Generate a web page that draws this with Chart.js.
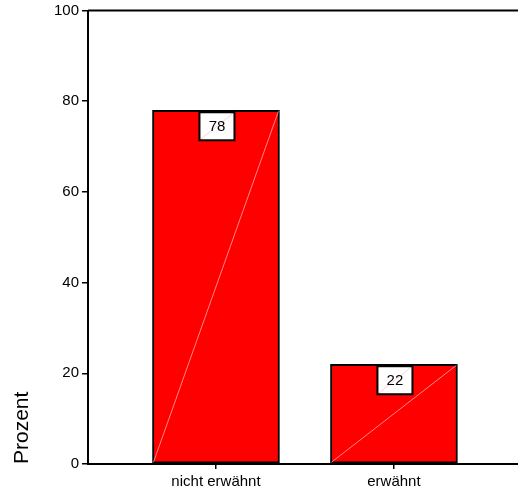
<!DOCTYPE html>
<html>
<head>
<meta charset="utf-8">
<script src="https://cdn.jsdelivr.net/npm/chart.js@4/dist/chart.umd.min.js"></script>
<style>
html,body{margin:0;padding:0;background:#fff;overflow:hidden;}
#wrap{width:518px;height:492px;position:relative;}
</style>
</head>
<body>
<div id="wrap"><canvas id="c" width="518" height="492"></canvas></div>
<script>
const categories = ['nicht erwähnt', 'erwähnt'];
const percentValues = [78, 22];
const yTickValues = [0, 20, 40, 60, 80, 100];
const yAxisTitle = 'Prozent';

const FONT = '"Liberation Sans", Arial, sans-serif';

const overlayPlugin = {
  id: 'overlay',
  afterDatasetsDraw(chart) {
    const ctx = chart.ctx;
    const meta = chart.getDatasetMeta(0);
    const area = chart.chartArea;
    ctx.save();
    // top frame line
    ctx.strokeStyle = '#000';
    ctx.lineWidth = 2;
    ctx.beginPath();
    ctx.moveTo(area.left, area.top);
    ctx.lineTo(area.right, area.top);
    ctx.stroke();
    meta.data.forEach((bar, i) => {
      const w = bar.width;
      const l = bar.x - w / 2, r = bar.x + w / 2;
      // faint diagonal
      ctx.strokeStyle = 'rgba(255,190,190,0.9)';
      ctx.lineWidth = 0.8;
      ctx.beginPath();
      ctx.moveTo(l + 1, bar.base - 1);
      ctx.lineTo(r - 1, bar.y + 1);
      ctx.stroke();
      // value box
      const bw = 35, bh = 28;
      const bx = bar.x - bw / 2 + 1, by = bar.y + 2;
      ctx.fillStyle = '#fff';
      ctx.fillRect(bx, by, bw, bh);
      ctx.strokeStyle = 'rgba(255,190,190,0.9)';
      ctx.lineWidth = 0.8;
      ctx.beginPath();
      ctx.moveTo(bx, by + bh);
      ctx.lineTo(bx + bw, by);
      ctx.stroke();
      ctx.strokeStyle = '#000';
      ctx.lineWidth = 2;
      ctx.strokeRect(bx, by, bw, bh);
      ctx.fillStyle = '#000';
      ctx.font = '15px ' + FONT;
      ctx.textAlign = 'center';
      ctx.textBaseline = 'middle';
      ctx.fillText(String(percentValues[i]), bx + bw / 2, by + bh / 2 + 1);
    });
    ctx.restore();
  }
};

new Chart(document.getElementById('c'), {
  type: 'bar',
  data: {
    datasets: [{
      data: percentValues.map((v, i) => ({ x: i + 1, y: v })),
      backgroundColor: '#ff0000',
      borderColor: '#000',
      borderWidth: 2,
      borderSkipped: false,
      barThickness: 127
    }]
  },
  options: {
    responsive: false,
    animation: false,
    events: [],
    layout: { padding: { top: 10, right: 0, left: 0, bottom: 0 } },
    plugins: { legend: { display: false }, tooltip: { enabled: false } },
    scales: {
      x: {
        type: 'linear',
        offset: false,
        min: 0.281,
        max: 2.697,
        afterBuildTicks(scale) { scale.ticks = categories.map((c, i) => ({ value: i + 1 })); },
        afterFit(scale) { scale.height = 28; },
        ticks: {
          callback: (v) => categories[v - 1],
          font: { family: FONT, size: 15 },
          color: '#000',
          padding: 4,
          autoSkip: false,
          maxRotation: 0
        },
        grid: { offset: false, drawOnChartArea: false, drawTicks: true, tickLength: 5, color: '#000', lineWidth: 1.5 },
        border: { display: true, color: '#000', width: 2 }
      },
      y: {
        min: 0,
        max: 100,
        afterBuildTicks(scale) { scale.ticks = yTickValues.map(v => ({ value: v })); },
        afterFit(scale) { scale.width = 88; },
        ticks: {
          font: { family: FONT, size: 15, lineHeight: 1 },
          color: '#000',
          padding: 3
        },
        grid: { drawOnChartArea: false, drawTicks: true, tickLength: 6, color: '#000', lineWidth: 1.5 },
        border: { display: true, color: '#000', width: 2 },
        title: {
          display: true,
          text: yAxisTitle,
          align: 'start',
          font: { family: FONT, size: 21 },
          color: '#000',
          padding: { top: 10, bottom: 0 }
        }
      }
    }
  },
  plugins: [overlayPlugin]
});
</script>
</body>
</html>
